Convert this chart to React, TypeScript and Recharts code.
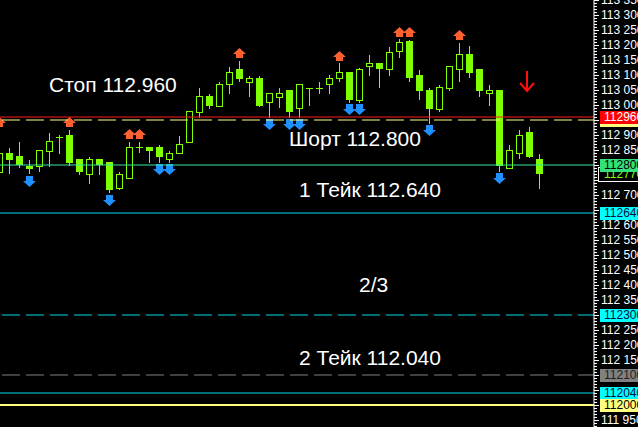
import React from 'react';
import { ComposedChart, Bar, XAxis, YAxis, ReferenceLine, ReferenceDot } from 'recharts';

// M5-style candles, one slot per bar
const opens = [
  112.778, 112.839, 112.830, 112.798, 112.798, 112.848, 112.892, 112.900, 112.820, 112.769,
  112.820, 112.810, 112.724, 112.758, 112.859, 112.859, 112.859, 112.819, 112.839, 112.878,
  112.978, 113.030, 112.997, 113.069, 113.120, 113.078, 113.089, 113.009, 113.028, 113.050,
  112.989, 113.058, 113.058, 113.069, 113.089, 113.109, 113.017, 113.130, 113.139, 113.120,
  113.180, 113.212, 113.100, 113.050, 112.986, 113.058, 113.119, 113.170, 113.120, 113.039,
  113.050, 112.789, 112.839, 112.909, 112.820,
];
const highs = [
  112.845, 112.856, 112.876, 112.817, 112.849, 112.907, 112.900, 112.917, 112.820, 112.827,
  112.820, 112.810, 112.777, 112.876, 112.878, 112.859, 112.867, 112.848, 112.897, 112.979,
  113.056, 113.038, 113.078, 113.128, 113.147, 113.097, 113.097, 113.039, 113.056, 113.050,
  113.069, 113.058, 113.078, 113.100, 113.139, 113.109, 113.124, 113.167, 113.139, 113.194,
  113.220, 113.217, 113.117, 113.056, 113.067, 113.130, 113.208, 113.197, 113.120, 113.067,
  113.050, 112.867, 112.917, 112.926, 112.837,
];
const lows = [
  112.765, 112.772, 112.794, 112.772, 112.780, 112.798, 112.840, 112.800, 112.770, 112.741,
  112.770, 112.710, 112.719, 112.758, 112.842, 112.811, 112.811, 112.811, 112.839, 112.878,
  112.961, 112.991, 112.997, 113.041, 113.081, 113.031, 112.997, 112.959, 112.992, 112.959,
  112.959, 113.000, 113.041, 113.041, 113.080, 113.011, 113.011, 113.100, 113.061, 113.100,
  113.161, 113.081, 113.020, 112.939, 112.981, 113.050, 113.081, 113.092, 113.031, 113.000,
  112.781, 112.789, 112.822, 112.828, 112.722,
];
const closes = [
  112.839, 112.817, 112.800, 112.787, 112.849, 112.879, 112.892, 112.807, 112.777, 112.819,
  112.800, 112.717, 112.769, 112.859, 112.859, 112.848, 112.828, 112.839, 112.869, 112.979,
  113.030, 112.997, 113.070, 113.109, 113.087, 113.089, 112.997, 113.039, 113.039, 112.978,
  113.069, 113.058, 113.058, 113.089, 113.109, 113.017, 113.119, 113.139, 113.119, 113.178,
  113.209, 113.089, 113.048, 112.987, 113.059, 113.130, 113.170, 113.108, 113.048, 113.050,
  112.798, 112.850, 112.900, 112.828, 112.770,
];

// fractal arrows (bar index + price of arrow centre)
const upIdx = [0, 7, 13, 14, 24, 34, 40, 41, 46];
const upPrice = [112.943, 112.943, 112.904, 112.904, 113.172, 113.162, 113.243, 113.243, 113.234];
const downIdx = [3, 11, 16, 17, 27, 29, 30, 35, 36, 43, 50];
const downPrice = [112.746, 112.685, 112.786, 112.786, 112.937, 112.937, 112.937, 112.986, 112.986, 112.918, 112.757];
const sellIdx = 53;
const sellPrice = 113.08;

// horizontal levels and their price tags on the right scale
const levelPrices = [112.95, 112.96, 112.77, 112.8, 112.64, 112.3, 112.1, 112.04, 112.0];
const levelKinds = ['yellowDash', 'stop', 'bid', 'short', 'take1', 'cyanDash', 'grayDash', 'take2', 'base'];

// text notes drawn on the chart
const noteTexts = ['Стоп 112.960', 'Шорт 112.800', '1 Тейк 112.640', '2/3', '2 Тейк 112.040'];
const notePrices = [113.067, 112.89, 112.717, 112.403, 112.16];
const noteSlots = [5, 29, 30, 36, 30];

const SLOTS = 60;
const PRICE_MIN = 111.9267;
const PRICE_MAX = 113.35;
const CANDLE = '#7fff00';
const FONT = '"Liberation Sans", Arial, sans-serif';

const LEVEL_STYLES: Record<string, any> = {
  yellowDash: { stroke: '#ffff80', dash: '18 6', width: 1, fill: '#ffff80', text: '#000' },
  stop: { stroke: '#ff1a1a', dash: undefined, width: 1, fill: '#ff0000', text: '#fff' },
  bid: { stroke: 'none', dash: undefined, width: 1, fill: '#000', text: CANDLE, border: '#fff' },
  short: { stroke: '#3de8a0', dash: undefined, width: 1, fill: '#33e07a', text: '#000' },
  take1: { stroke: '#00e0f0', dash: undefined, width: 1, fill: '#00ffff', text: '#001040' },
  cyanDash: { stroke: '#00d8e8', dash: '18 6', width: 1, fill: '#00ffff', text: '#001040' },
  grayDash: { stroke: '#808080', dash: '18 6', width: 1, fill: '#808080', text: '#202020' },
  take2: { stroke: '#00e0f0', dash: undefined, width: 1, fill: '#00ffff', text: '#001040' },
  base: { stroke: '#ffff80', dash: undefined, width: 2, fill: '#ffff80', text: '#000' },
};

const data = Array.from({ length: SLOTS }, (_, i) => {
  if (i >= opens.length) return { i, range: null };
  const u = upIdx.indexOf(i);
  const d = downIdx.indexOf(i);
  return {
    i,
    open: opens[i],
    high: highs[i],
    low: lows[i],
    close: closes[i],
    range: [lows[i], highs[i]],
    up: u >= 0 ? upPrice[u] : null,
    down: d >= 0 ? downPrice[d] : null,
    sell: i === sellIdx ? sellPrice : null,
  };
});

const ticks = Array.from({ length: 143 }, (_, k) => Math.round(11193 + k) / 100);

const Candle = (props: any) => {
  const { x, y, width, height, payload } = props;
  if (!payload || payload.open == null || height == null) return <g />;
  const { open, high, low, close, up, down, sell } = payload;
  const top = Math.min(y, y + height);
  const bot = Math.max(y, y + height);
  const py = (v: number) => Math.round(top + ((high - v) / (high - low)) * (bot - top));
  const cx = Math.round(x + width / 2);
  const parts: React.ReactNode[] = [];
  parts.push(
    <line key="w" x1={cx + 0.5} x2={cx + 0.5} y1={py(high)} y2={py(low) + 1} stroke={CANDLE} />
  );
  if (close === open) {
    const yy = py(open) + 0.5;
    parts.push(<line key="b" x1={cx - 3} x2={cx + 4} y1={yy} y2={yy} stroke={CANDLE} />);
  } else if (close > open) {
    const yt = py(close);
    const yb = py(open);
    parts.push(
      <rect key="b" x={cx - 2.5} y={yt + 0.5} width={6} height={Math.max(yb - yt, 1)} fill="#000" stroke={CANDLE} />
    );
  } else {
    const yt = py(open);
    const yb = py(close);
    parts.push(<rect key="b" x={cx - 3} y={yt} width={7} height={Math.max(yb - yt, 1)} fill={CANDLE} />);
  }
  if (up != null) {
    const c = py(up);
    parts.push(
      <polygon
        key="u"
        points={`${cx + 0.5},${c - 5} ${cx + 7},${c + 1} ${cx + 4},${c + 1} ${cx + 4},${c + 5} ${cx - 3},${c + 5} ${cx - 3},${c + 1} ${cx - 6},${c + 1}`}
        fill="#ff6030"
      />
    );
  }
  if (down != null) {
    const c = py(down);
    parts.push(
      <polygon
        key="d"
        points={`${cx - 3},${c - 5} ${cx + 4},${c - 5} ${cx + 4},${c} ${cx + 7},${c} ${cx + 0.5},${c + 6} ${cx - 6},${c} ${cx - 3},${c}`}
        fill="#1e90ff"
      />
    );
  }
  if (sell != null) {
    const c = py(sell);
    const sx = cx - 2;
    parts.push(
      <path
        key="s"
        d={`M${sx} ${c - 10} L${sx} ${c + 9} M${sx - 7} ${c + 2} L${sx} ${c + 10} L${sx + 7} ${c + 2}`}
        stroke="#ff1010"
        strokeWidth={2}
        fill="none"
      />
    );
  }
  return <g>{parts}</g>;
};

const PriceTick = (props: any) => {
  const { x, y, payload } = props;
  const v = payload.value;
  const m = Math.round(v * 1000);
  const major = m % 50 === 0;
  const yy = Math.round(y) + 0.5;
  const covered = levelPrices.some((p) => Math.abs(p - v) < 0.03);
  const label = `${Math.floor(m / 1000)} ${String(m % 1000).padStart(3, '0')}`;
  return (
    <g>
      <line x1={x} x2={x + (major ? 5 : 3)} y1={yy} y2={yy} stroke="#fff" />
      {major && !covered && (
        <text x={x + 7} y={y} dy="0.36em" fill="#fff" fontSize={12} fontFamily={FONT}>
          {label}
        </text>
      )}
    </g>
  );
};

const LevelTag = (props: any) => {
  const { viewBox, price, kind } = props;
  if (!viewBox) return null;
  const s = LEVEL_STYLES[kind];
  const right = viewBox.x + viewBox.width;
  const yy = Math.round(viewBox.y);
  const boxed = kind === 'bid';
  return (
    <g>
      <rect
        x={right + (boxed ? 4.5 : 6)}
        y={yy - (boxed ? 6.5 : 6)}
        width={50}
        height={boxed ? 14 : 13}
        fill={s.fill}
        stroke={s.border || 'none'}
      />
      <text x={right + 10} y={yy} dy="0.36em" fill={s.text} fontSize={12} fontFamily={FONT}>
        {String(Math.round(price * 1000))}
      </text>
    </g>
  );
};

const Note = (props: any) => {
  const { viewBox, text } = props;
  if (!viewBox) return null;
  const cx = viewBox.x + viewBox.width / 2;
  const cy = viewBox.y + viewBox.height / 2;
  return (
    <text x={cx} y={cy} dy="0.36em" fill="#fff" fontSize={21} fontFamily={FONT}>
      {text}
    </text>
  );
};

export default function App() {
  return (
    <div
      style={{
        position: 'fixed',
        left: 0,
        top: 0,
        width: 638,
        height: 427,
        background: '#000',
        overflow: 'hidden',
      }}
    >
      <div style={{ position: 'absolute', left: -6, top: 0 }}>
        <ComposedChart width={644} height={427} data={data} margin={{ top: 0, right: 0, bottom: 0, left: 0 }}>
          <XAxis dataKey="i" type="category" hide />
          <YAxis
            orientation="right"
            width={44}
            type="number"
            domain={[PRICE_MIN, PRICE_MAX]}
            allowDataOverflow
            ticks={ticks}
            interval={0}
            tickLine={false}
            tickSize={0}
            tickMargin={0}
            axisLine={{ stroke: '#fff' }}
            tick={<PriceTick />}
          />
          {levelPrices.map((p, k) => {
            const s = LEVEL_STYLES[levelKinds[k]];
            return (
              <ReferenceLine
                key={k}
                y={p}
                stroke={s.stroke}
                strokeWidth={s.width}
                strokeDasharray={s.dash}
                strokeDashoffset={2}
                label={<LevelTag price={p} kind={levelKinds[k]} />}
              />
            );
          })}
          <Bar dataKey="range" shape={(p: any) => <Candle {...p} />} isAnimationActive={false} />
          {noteTexts.map((t, k) => (
            <ReferenceDot
              key={t}
              x={noteSlots[k]}
              y={notePrices[k]}
              r={0}
              fill="none"
              stroke="none"
              label={<Note text={t} />}
            />
          ))}
        </ComposedChart>
      </div>
    </div>
  );
}
